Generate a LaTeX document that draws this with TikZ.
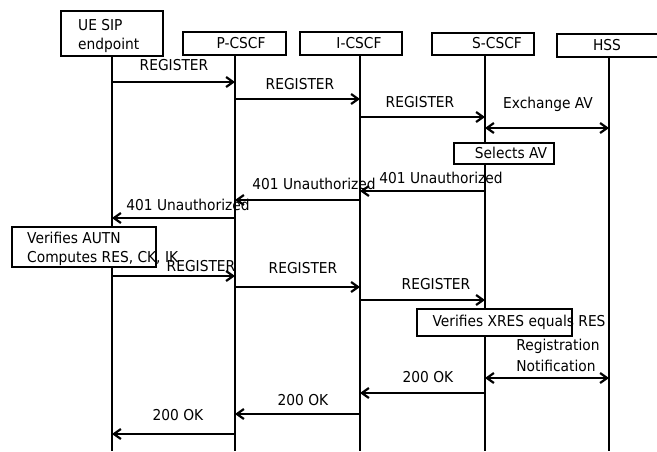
\documentclass[tikz,border=0pt]{standalone}
\usepackage{fontspec}
\setmainfont{DejaVu Sans}[FakeStretch=0.92]
\usetikzlibrary{arrows.meta}
\begin{document}
\begin{tikzpicture}[x=1pt,y=-1pt,
  every node/.style={font=\fontsize{15}{18}\selectfont, inner sep=0pt},
  actor/.style={draw, line width=2.2pt, fill=white, rectangle},
  note/.style={draw, line width=2.2pt, fill=white, rectangle},
  life/.style={line width=2.2pt},
  tip/.style={},
  msg/.style={line width=2.2pt, -{Straight Barb[length=7pt,width=10pt,line width=2.2pt]}},
  dmsg/.style={line width=2.2pt, {Straight Barb[length=7pt,width=10pt,line width=2.2pt]}-{Straight Barb[length=7pt,width=10pt,line width=2.2pt]}}]
\useasboundingbox (0,0) rectangle (657,451);
% actor boxes
\draw[actor] (61,11) rectangle (163,56);
\node[anchor=west] (uet1) at (78,25) {UE SIP};
\node[anchor=west] (uet2) at (78,45) {endpoint};
\draw[actor] (183,32) rectangle (286,55);
\node (pct) at (241,43) {P-CSCF};
\draw[actor] (300,32) rectangle (402,55);
\node (ict) at (359,43) {I-CSCF};
\draw[actor] (432,33) rectangle (534,55);
\node (sct) at (497,43) {S-CSCF};
\draw[actor] (557,34) rectangle (662,57);
\node (hst) at (607,45) {HSS};
% lifeline coordinates
\coordinate (ue) at (112,56);  \coordinate (ueB) at (112,451);
\coordinate (pc) at (235,55);  \coordinate (pcB) at (235,451);
\coordinate (ic) at (360,55);  \coordinate (icB) at (360,451);
\coordinate (sc) at (485,55);  \coordinate (scB) at (485,451);
\coordinate (hs) at (609,57);  \coordinate (hsB) at (609,451);
\draw[life] (ue) -- (ueB);
\draw[life] (pc) -- (pcB);
\draw[life] (ic) -- (icB);
\draw[life] (sc) -- (scB);
\draw[life] (hs) -- (hsB);
% message rows
\coordinate (m1) at (0,82);
\coordinate (m2) at (0,99);
\coordinate (m3) at (0,117);
\coordinate (m4) at (0,128);
\coordinate (m5) at (0,191);
\coordinate (m6) at (0,200);
\coordinate (m7) at (0,218);
\coordinate (m8) at (0,276);
\coordinate (m9) at (0,287);
\coordinate (m10) at (0,300);
\coordinate (m11) at (0,378);
\coordinate (m12) at (0,393);
\coordinate (m13) at (0,414);
\coordinate (m14) at (0,434);
% messages
\draw[msg] (ue |- m1) -- (pc |- m1);
\node (l1) at (174,65) {REGISTER};
\draw[msg] (pc |- m2) -- (ic |- m2);
\node (l2) at (300,84) {REGISTER};
\draw[msg] (ic |- m3) -- (sc |- m3);
\node (l3) at (420,102) {REGISTER};
\draw[dmsg] (sc |- m4) -- (hs |- m4);
\node (l4) at (548,104) {Exchange AV};
% Selects AV
\draw[note] (454,143) rectangle (554,164);
\node (n1) at (511,153) {Selects AV};
\draw[msg] (sc |- m5) -- (ic |- m5);
\node (l5) at (441,178) {401 Unauthorized};
\draw[msg] (ic |- m6) -- (pc |- m6);
\node (l6) at (314,184) {401 Unauthorized};
\draw[msg] (pc |- m7) -- (ue |- m7);
\node (l7) at (188,205) {401 Unauthorized};
% Verifies AUTN
\draw[note] (12,227) rectangle (156,267);
\node[anchor=west] (n2a) at (27,238) {Verifies AUTN};
\node[anchor=west] (n2b) at (27,258) {Computes RES, CK, IK};
\draw[msg] (ue |- m8) -- (pc |- m8);
\node (l8) at (201,266) {REGISTER};
\draw[msg] (pc |- m9) -- (ic |- m9);
\node (l9) at (303,268) {REGISTER};
\draw[msg] (ic |- m10) -- (sc |- m10);
\node (l10) at (436,284) {REGISTER};
% Verifies XRES
\draw[note] (417,309) rectangle (572,336);
\node (n3) at (519,322) {Verifies XRES equals RES};
\node (l11a) at (558,346) {Registration};
\node (l11b) at (556,366) {Notification};
\draw[dmsg] (sc |- m11) -- (hs |- m11);
\draw[msg] (sc |- m12) -- (ic |- m12);
\node (l12) at (428,377) {200 OK};
\draw[msg] (ic |- m13) -- (pc |- m13);
\node (l13) at (303,400) {200 OK};
\draw[msg] (pc |- m14) -- (ue |- m14);
\node (l14) at (178,415) {200 OK};
\end{tikzpicture}
\end{document}
